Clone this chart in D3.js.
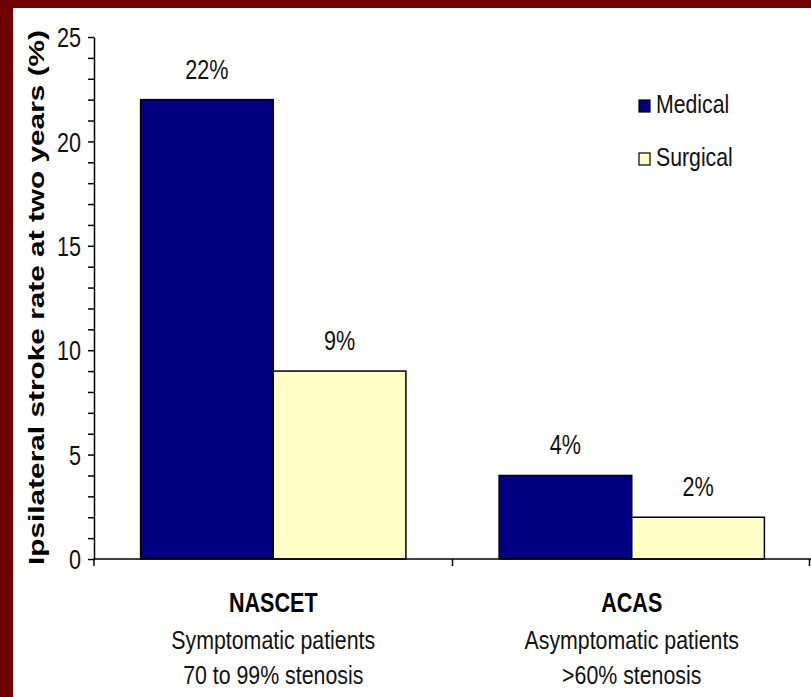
<!DOCTYPE html>
<html>
<head>
<meta charset="utf-8">
<script src="https://cdn.jsdelivr.net/npm/d3@7"></script>
<style>
  body { margin: 0; background: #fff; }
  svg { display: block; }
  .narrow { font-family: "Liberation Sans", Arial, sans-serif; }
</style>
</head>
<body>
<svg id="chart" width="811" height="697"></svg>
<script>
// data
var studies = ["NASCET", "ACAS"];
var studyLines = [["Symptomatic patients", "70 to 99% stenosis"], ["Asymptomatic patients", ">60% stenosis"]];
var treatments = ["Medical", "Surgical"];
var medicalRate = [22, 4];
var surgicalRate = [9, 2];
var yTicks = [0, 5, 10, 15, 20, 25];

var W = 811, H = 697;
var svg = d3.select("#chart");

// maroon frame (top and left only)
svg.append("rect").attr("x", 0).attr("y", 0).attr("width", W).attr("height", H).attr("fill", "#700000");
svg.append("rect").attr("x", 13).attr("y", 8).attr("width", W - 13).attr("height", H - 8).attr("fill", "#ffffff");

var x0 = 94, y0 = 559, yTop = 37, xEnd = 811;

var y = d3.scaleLinear().domain([0, 25]).range([y0, yTop]);
var x = d3.scaleBand().domain(studies).range([x0, xEnd]).paddingInner(0.26).paddingOuter(0.13);
var xs = d3.scaleBand().domain(treatments).range([0, x.bandwidth()]);
var color = d3.scaleOrdinal().domain(treatments).range(["#000080", "#ffffc8"]);

var rows = [];
for (var i = 0; i < studies.length; i++) {
  rows.push({study: studies[i], treat: "Medical", v: medicalRate[i]});
  rows.push({study: studies[i], treat: "Surgical", v: surgicalRate[i]});
}

// bars
svg.selectAll(".bar")
  .data(rows)
  .enter()
  .append("rect")
  .attr("class", "bar")
  .attr("x", function(d){ return x(d.study) + xs(d.treat); })
  .attr("y", function(d){ return y(d.v); })
  .attr("width", xs.bandwidth())
  .attr("height", function(d){ return y(0) - y(d.v); })
  .attr("fill", function(d){ return color(d.treat); })
  .attr("stroke", "#000")
  .attr("stroke-width", 1.5);

// value labels
svg.selectAll(".val")
  .data(rows)
  .enter()
  .append("text")
  .attr("class", "val narrow")
  .attr("data-sq", 0.8)
  .attr("x", function(d){ return x(d.study) + xs(d.treat) + xs.bandwidth() / 2; })
  .attr("y", function(d){ return y(d.v) - 21; })
  .attr("text-anchor", "middle")
  .attr("font-size", 27)
  .attr("fill", "#111")
  .text(function(d){ return d.v + "%"; });

// y axis: ticks every unit, labels every 5
var yAxis = d3.axisLeft(y)
  .tickValues(d3.range(0, 26))
  .tickSize(6)
  .tickSizeOuter(0)
  .tickFormat(function(d){ return yTicks.indexOf(d) >= 0 ? d : ""; });

var gy = svg.append("g")
  .attr("transform", "translate(" + x0 + ",0)")
  .call(yAxis);
gy.select(".domain").attr("stroke", "#000").attr("stroke-width", 1.5);
gy.selectAll(".tick line").attr("stroke", "#000").attr("stroke-width", 1.5);
gy.selectAll(".tick text")
  .attr("class", "narrow")
  .attr("data-sq", 0.8)
  .attr("font-size", 27)
  .attr("fill", "#111")
  .attr("x", -13)
  .attr("dy", "0.36em");

// x axis: ticks at category boundaries
var gx = svg.append("g");
gx.append("line")
  .attr("x1", x0).attr("x2", xEnd)
  .attr("y1", y0).attr("y2", y0)
  .attr("stroke", "#000").attr("stroke-width", 1.5);
var bounds = [x0, x0 + x.step(), xEnd - 1.5];
gx.selectAll(".xt")
  .data(bounds)
  .enter()
  .append("line")
  .attr("x1", function(d){ return d; })
  .attr("x2", function(d){ return d; })
  .attr("y1", y0)
  .attr("y2", y0 + 7)
  .attr("stroke", "#000").attr("stroke-width", 1.5);

// category labels
var cat = svg.selectAll(".cat")
  .data(studies)
  .enter()
  .append("g")
  .attr("transform", function(d){ return "translate(" + (x(d) + x.bandwidth() / 2) + ",0)"; });
cat.append("text")
  .attr("class", "narrow")
  .attr("data-sq", 0.77)
  .attr("y", 612)
  .attr("text-anchor", "middle")
  .attr("font-size", 28)
  .attr("font-weight", "bold")
  .attr("fill", "#000")
  .text(function(d){ return d; });
cat.append("text")
  .attr("class", "narrow")
  .attr("data-sq", 0.82)
  .attr("y", 649)
  .attr("text-anchor", "middle")
  .attr("font-size", 26)
  .attr("fill", "#111")
  .text(function(d, i){ return studyLines[i][0]; });
cat.append("text")
  .attr("class", "narrow")
  .attr("data-sq", 0.82)
  .attr("y", 684)
  .attr("text-anchor", "middle")
  .attr("font-size", 26)
  .attr("fill", "#111")
  .text(function(d, i){ return studyLines[i][1]; });

// y axis title
svg.append("text")
  .attr("transform", "translate(44," + ((y0 + 30) / 2 + 3) + ") rotate(-90)")
  .attr("text-anchor", "middle")
  .attr("font-family", "Liberation Sans, Arial, sans-serif")
  .attr("font-weight", "bold")
  .attr("font-size", 22)
  .attr("fill", "#000")
  .attr("textLength", 535)
  .attr("lengthAdjust", "spacingAndGlyphs")
  .text("Ipsilateral stroke rate at two years (%)");

// legend
var legend = svg.selectAll(".leg")
  .data(treatments)
  .enter()
  .append("g")
  .attr("transform", function(d, i){ return "translate(639," + (100 + i * 53) + ")"; });
legend.append("rect")
  .attr("width", 11).attr("height", 12)
  .attr("fill", function(d){ return color(d); })
  .attr("stroke", "#000").attr("stroke-width", 1.2);
legend.append("text")
  .attr("class", "narrow")
  .attr("data-sq", 0.85)
  .attr("x", 17)
  .attr("y", 13)
  .attr("font-size", 25)
  .attr("fill", "#111")
  .text(function(d){ return d; });

// squeeze the texts to look like the narrow face of the original
svg.selectAll("text.narrow").each(function(){
  var t = d3.select(this);
  var w = this.getComputedTextLength();
  if (w > 0) {
    t.attr("textLength", w * (+t.attr("data-sq"))).attr("lengthAdjust", "spacingAndGlyphs");
  }
});
</script>
</body>
</html>
